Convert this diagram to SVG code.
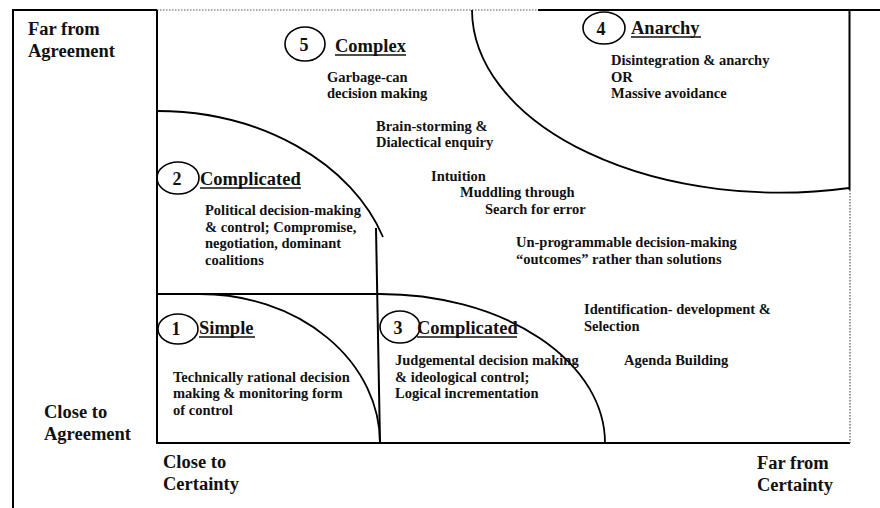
<svg xmlns="http://www.w3.org/2000/svg" width="880" height="508" viewBox="0 0 880 508">
  <style>
    text { font-family: "Liberation Serif", "Times New Roman", serif; font-weight: bold; fill: #111; }
    .body { font-size: 14.5px; }
    .head { font-size: 18.5px; }
    .axis { font-size: 18.5px; }
    .num  { font-size: 18px; text-anchor: middle; }
    .frame { stroke: #000; stroke-width: 2; fill: none; }
    .dot { stroke: #555; stroke-width: 1.2; stroke-dasharray: 1.5 1.5; fill: none; }
    .arc { stroke: #000; stroke-width: 1.8; fill: none; }
    .badge { stroke: #000; stroke-width: 1.6; fill: none; }
    .ul { stroke: #111; stroke-width: 1.3; }
  </style>

  <!-- outer frame and axes -->
  <g id="connectors">
    <line class="frame" x1="13" y1="10" x2="157" y2="10"/>
    <line class="dot" x1="157" y1="10" x2="538" y2="10"/>
    <line class="frame" x1="538" y1="10" x2="880" y2="10" stroke-width="1.6"/>
    <line class="frame" x1="13" y1="9" x2="13" y2="508"/>
    <line class="frame" x1="157" y1="10" x2="157" y2="444"/>
    <line class="frame" x1="156" y1="443" x2="850" y2="443"/>
    <line class="frame" x1="849.5" y1="10" x2="849.5" y2="190"/>
    <line class="dot" x1="850" y1="190" x2="850" y2="443"/>
    <line class="frame" x1="157" y1="294" x2="380" y2="294"/>
    <line class="frame" x1="376" y1="228" x2="380" y2="443"/>
  </g>

  <!-- zone boundaries -->
  <g id="boundaries">
    <path class="arc" d="M200,294 A180,149 0 0 1 380,443"/>
    <path class="arc" d="M380,294 A225,149 0 0 1 605,443"/>
    <path class="arc" d="M157,111 A238,183 0 0 1 383,237"/>
    <path class="arc" d="M472,10 A308,183 0 0 0 849,188"/>
  </g>

  <!-- axis labels -->
  <g id="axis-labels">
    <text class="axis" x="28" y="35">Far from</text>
    <text class="axis" x="28" y="57">Agreement</text>
    <text class="axis" x="44" y="418">Close to</text>
    <text class="axis" x="44" y="440">Agreement</text>
    <text class="axis" x="163" y="468">Close to</text>
    <text class="axis" x="163" y="490">Certainty</text>
    <text class="axis" x="757" y="469">Far from</text>
    <text class="axis" x="757" y="491">Certainty</text>
  </g>

  <!-- zone 1: simple -->
  <g id="zone-1">
    <ellipse class="badge" cx="178" cy="329" rx="20" ry="15"/>
    <text class="num" x="176" y="335">1</text>
    <text class="head" x="199" y="334">Simple</text>
    <line class="ul" x1="199" y1="337" x2="255" y2="337"/>
    <text class="body" x="173" y="382">Technically rational decision</text>
    <text class="body" x="173" y="398">making &amp; monitoring form</text>
    <text class="body" x="173" y="415">of control</text>
  </g>

  <!-- zone 2: complicated (political) -->
  <g id="zone-2">
    <ellipse class="badge" cx="178" cy="178" rx="21" ry="16"/>
    <text class="num" x="177" y="185">2</text>
    <text class="head" x="200" y="185">Complicated</text>
    <line class="ul" x1="200" y1="188" x2="301" y2="188"/>
    <text class="body" x="205" y="215">Political decision-making</text>
    <text class="body" x="205" y="232">&amp; control; Compromise,</text>
    <text class="body" x="205" y="248">negotiation, dominant</text>
    <text class="body" x="205" y="265">coalitions</text>
  </g>

  <!-- zone 3: complicated (judgemental) -->
  <g id="zone-3">
    <ellipse class="badge" cx="400" cy="327" rx="20" ry="16"/>
    <text class="num" x="398" y="334">3</text>
    <text class="head" x="417" y="334">Complicated</text>
    <line class="ul" x1="417" y1="337" x2="517" y2="337"/>
    <text class="body" x="395" y="365">Judgemental decision making</text>
    <text class="body" x="395" y="382">&amp; ideological control;</text>
    <text class="body" x="395" y="398">Logical incrementation</text>
  </g>

  <!-- zone 4: anarchy -->
  <g id="zone-4">
    <ellipse class="badge" cx="604" cy="28" rx="21" ry="16"/>
    <text class="num" x="601" y="35">4</text>
    <text class="head" x="631" y="34">Anarchy</text>
    <line class="ul" x1="631" y1="37" x2="701" y2="37"/>
    <text class="body" x="611" y="65">Disintegration &amp; anarchy</text>
    <text class="body" x="611" y="82">OR</text>
    <text class="body" x="611" y="98">Massive avoidance</text>
  </g>

  <!-- zone 5: complex -->
  <g id="zone-5">
    <ellipse class="badge" cx="305" cy="44" rx="20" ry="17"/>
    <text class="num" x="304" y="51">5</text>
    <text class="head" x="335" y="52">Complex</text>
    <line class="ul" x1="335" y1="55" x2="406" y2="55"/>
    <text class="body" x="327" y="82">Garbage-can</text>
    <text class="body" x="327" y="98">decision making</text>
    <text class="body" x="376" y="131">Brain-storming &amp;</text>
    <text class="body" x="376" y="147">Dialectical enquiry</text>
    <text class="body" x="431" y="181">Intuition</text>
    <text class="body" x="460" y="197">Muddling through</text>
    <text class="body" x="485" y="214">Search for error</text>
    <text class="body" x="516" y="247">Un-programmable decision-making</text>
    <text class="body" x="516" y="264">“outcomes” rather than solutions</text>
    <text class="body" x="584" y="314">Identification- development &amp;</text>
    <text class="body" x="584" y="331">Selection</text>
    <text class="body" x="624" y="365">Agenda Building</text>
  </g>
</svg>
